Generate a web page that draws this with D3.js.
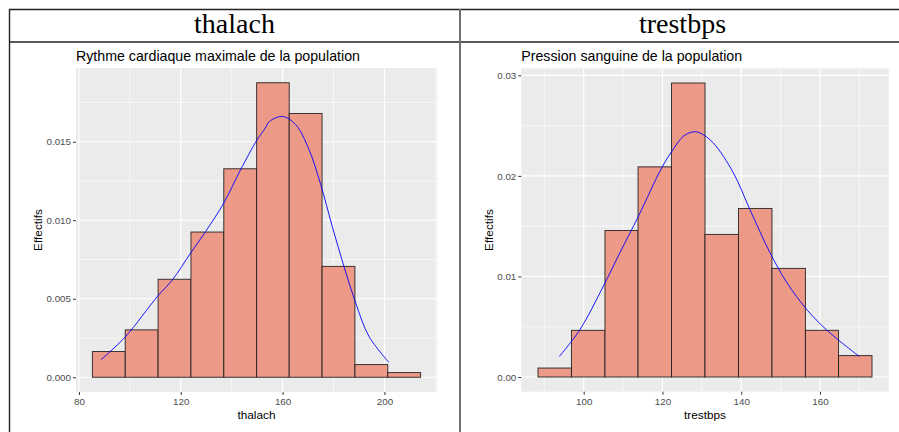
<!DOCTYPE html>
<html>
<head>
<meta charset="utf-8">
<script src="https://cdn.jsdelivr.net/npm/d3@7"></script>
<style>
  body { margin: 0; background: #fff; }
  svg { display: block; }
</style>
</head>
<body>
<script>
// thalach histogram (density scale)
const thalachEdges = [85.3, 98.2, 111.1, 124.0, 136.9, 149.8, 162.6, 175.5, 188.4, 201.3, 214.2];
const thalachDensity = [0.00164, 0.00302, 0.00624, 0.00925, 0.01328, 0.01876, 0.0168, 0.00706, 0.00081, 0.0003];
const thalachCurveX = [88.8, 98.2, 110.9, 116.8, 123.9, 129.8, 136.9, 143.5, 150.0, 153.2, 154.8, 160.0, 165.2, 170.4, 175.0, 179.5, 184.1, 188.7, 193.9, 201.7];
const thalachCurveY = [0.00113, 0.00257, 0.00516, 0.00622, 0.00792, 0.00929, 0.0111, 0.01322, 0.01513, 0.01587, 0.01629, 0.01661, 0.01608, 0.01449, 0.01226, 0.00961, 0.00706, 0.00474, 0.00261, 0.00096];
const thalachXTicks = [80, 120, 160, 200];
const thalachYTicks = [0, 0.005, 0.010, 0.015];
const thalachYLabels = ['0.000', '0.005', '0.010', '0.015'];

// trestbps histogram (density scale)
const trestEdges = [88.4, 96.9, 105.4, 113.8, 122.3, 130.8, 139.3, 147.8, 156.3, 164.7, 173.2];
const trestDensity = [0.00089, 0.00464, 0.01457, 0.0209, 0.02924, 0.01418, 0.01676, 0.0108, 0.00464, 0.00213];
const trestCurveX = [93.8, 99.1, 105.0, 109.2, 113.9, 119.8, 122.4, 125.3, 127.8, 129.5, 132.9, 138.0, 142.2, 147.3, 151.6, 156.6, 161.7, 170.0];
const trestCurveY = [0.00203, 0.00474, 0.00904, 0.01236, 0.01599, 0.0208, 0.02245, 0.02394, 0.02438, 0.02428, 0.02328, 0.0203, 0.01666, 0.01236, 0.00938, 0.00673, 0.00467, 0.00203];
const trestXTicks = [100, 120, 140, 160];
const trestYTicks = [0, 0.01, 0.02, 0.03];
const trestYLabels = ['0.00', '0.01', '0.02', '0.03'];

const width = 899;
const height = 432;

const svg = d3.select('body')
  .append('svg')
  .attr('width', width)
  .attr('height', height);

// table frame
svg.append('line').attr('x1', 9).attr('x2', width).attr('y1', 9.5).attr('y2', 9.5)
  .attr('stroke', '#222').attr('stroke-width', 1.6);
svg.append('line').attr('x1', 9).attr('x2', width).attr('y1', 42).attr('y2', 42)
  .attr('stroke', '#222').attr('stroke-width', 1.4);
svg.append('line').attr('x1', 9.5).attr('x2', 9.5).attr('y1', 9).attr('y2', height)
  .attr('stroke', '#222').attr('stroke-width', 1.4);
svg.append('line').attr('x1', 460).attr('x2', 460).attr('y1', 9).attr('y2', height)
  .attr('stroke', '#707070').attr('stroke-width', 2);

svg.append('text')
  .attr('x', 234.5).attr('y', 33)
  .attr('text-anchor', 'middle')
  .style('font-family', '"Liberation Serif", "DejaVu Serif", serif')
  .style('font-size', '28px')
  .text('thalach');
svg.append('text')
  .attr('x', 682.5).attr('y', 33)
  .attr('text-anchor', 'middle')
  .style('font-family', '"Liberation Serif", "DejaVu Serif", serif')
  .style('font-size', '28px')
  .text('trestbps');

function drawHist(opt) {
  const g = svg.append('g');
  const n = opt.density.length;
  const xMin = opt.edges[0], xMax = opt.edges[n];
  const xPad = (xMax - xMin) * 0.05;
  const yMax = d3.max(opt.density);
  const yPad = yMax * 0.05;

  const x = d3.scaleLinear()
    .domain([xMin - xPad, xMax + xPad])
    .range([opt.left, opt.right]);
  const y = d3.scaleLinear()
    .domain([-yPad, yMax + yPad])
    .range([opt.bottom, opt.top]);

  // panel
  g.append('rect')
    .attr('x', opt.left).attr('y', opt.top)
    .attr('width', opt.right - opt.left)
    .attr('height', opt.bottom - opt.top)
    .attr('fill', '#EBEBEB');

  // minor grid
  g.selectAll('.minor-x')
    .data(opt.xMinor)
    .enter().append('line')
    .attr('x1', d => x(d)).attr('x2', d => x(d))
    .attr('y1', opt.top).attr('y2', opt.bottom)
    .attr('stroke', '#fff').attr('stroke-width', 0.6);
  g.selectAll('.minor-y')
    .data(opt.yMinor)
    .enter().append('line')
    .attr('y1', d => y(d)).attr('y2', d => y(d))
    .attr('x1', opt.left).attr('x2', opt.right)
    .attr('stroke', '#fff').attr('stroke-width', 0.6);

  // major grid
  g.selectAll('.major-x')
    .data(opt.xTicks)
    .enter().append('line')
    .attr('x1', d => x(d)).attr('x2', d => x(d))
    .attr('y1', opt.top).attr('y2', opt.bottom)
    .attr('stroke', '#fff').attr('stroke-width', 1.2);
  g.selectAll('.major-y')
    .data(opt.yTicks)
    .enter().append('line')
    .attr('y1', d => y(d)).attr('y2', d => y(d))
    .attr('x1', opt.left).attr('x2', opt.right)
    .attr('stroke', '#fff').attr('stroke-width', 1.2);

  // bars
  g.selectAll('.bar')
    .data(opt.density)
    .enter().append('rect')
    .attr('x', (d, i) => x(opt.edges[i]))
    .attr('width', (d, i) => x(opt.edges[i + 1]) - x(opt.edges[i]))
    .attr('y', d => y(d))
    .attr('height', d => y(0) - y(d))
    .attr('fill', '#ED9988')
    .attr('stroke', '#1a1a1a')
    .attr('stroke-opacity', 0.85)
    .attr('stroke-width', 1);

  // density curve
  const line = d3.line()
    .x(d => x(d[0]))
    .y(d => y(d[1]))
    .curve(d3.curveCatmullRom);
  g.append('path')
    .datum(opt.curveX.map((v, i) => [v, opt.curveY[i]]))
    .attr('d', line)
    .attr('fill', 'none')
    .attr('stroke', 'blue')
    .attr('stroke-width', 0.9);

  // axes
  const xAxis = d3.axisBottom(x)
    .tickValues(opt.xTicks)
    .tickSize(3)
    .tickPadding(3);
  const ax = g.append('g')
    .attr('transform', `translate(0,${opt.bottom})`)
    .call(xAxis);
  const yAxis = d3.axisLeft(y)
    .tickValues(opt.yTicks)
    .tickFormat((d, i) => opt.yLabels[i])
    .tickSize(3)
    .tickPadding(2);
  const ay = g.append('g')
    .attr('transform', `translate(${opt.left},0)`)
    .call(yAxis);
  [ax, ay].forEach(a => {
    a.select('.domain').remove();
    a.selectAll('.tick line').attr('stroke', '#333');
    a.selectAll('.tick text')
      .attr('fill', '#4D4D4D')
      .style('font-family', '"Liberation Sans", Arial, sans-serif')
      .style('font-size', '9.8px');
  });

  // titles
  g.append('text')
    .attr('x', opt.left).attr('y', 61)
    .style('font-family', '"Liberation Sans", Arial, sans-serif')
    .style('font-size', '14.2px')
    .text(opt.title);
  g.append('text')
    .attr('x', (opt.left + opt.right) / 2).attr('y', 419)
    .attr('text-anchor', 'middle')
    .style('font-family', '"Liberation Sans", Arial, sans-serif')
    .style('font-size', '11.8px')
    .text(opt.xTitle);
  g.append('text')
    .attr('transform', `translate(${opt.yTitleX},${(opt.top + opt.bottom) / 2}) rotate(-90)`)
    .attr('text-anchor', 'middle')
    .style('font-family', '"Liberation Sans", Arial, sans-serif')
    .style('font-size', '11.8px')
    .text('Effectifs');
}

drawHist({
  left: 76, right: 437, top: 68, bottom: 392,
  edges: thalachEdges, density: thalachDensity,
  curveX: thalachCurveX, curveY: thalachCurveY,
  xTicks: thalachXTicks, xMinor: [100, 140, 180, 220],
  yTicks: thalachYTicks, yMinor: [0.0025, 0.0075, 0.0125, 0.0175],
  yLabels: thalachYLabels,
  title: 'Rythme cardiaque maximale de la population',
  xTitle: 'thalach', yTitleX: 41.5
});

drawHist({
  left: 521.3, right: 888.7, top: 68.3, bottom: 391.7,
  edges: trestEdges, density: trestDensity,
  curveX: trestCurveX, curveY: trestCurveY,
  xTicks: trestXTicks, xMinor: [90, 110, 130, 150, 170],
  yTicks: trestYTicks, yMinor: [0.005, 0.015, 0.025],
  yLabels: trestYLabels,
  title: 'Pression sanguine de la population',
  xTitle: 'trestbps', yTitleX: 493
});
</script>
</body>
</html>
